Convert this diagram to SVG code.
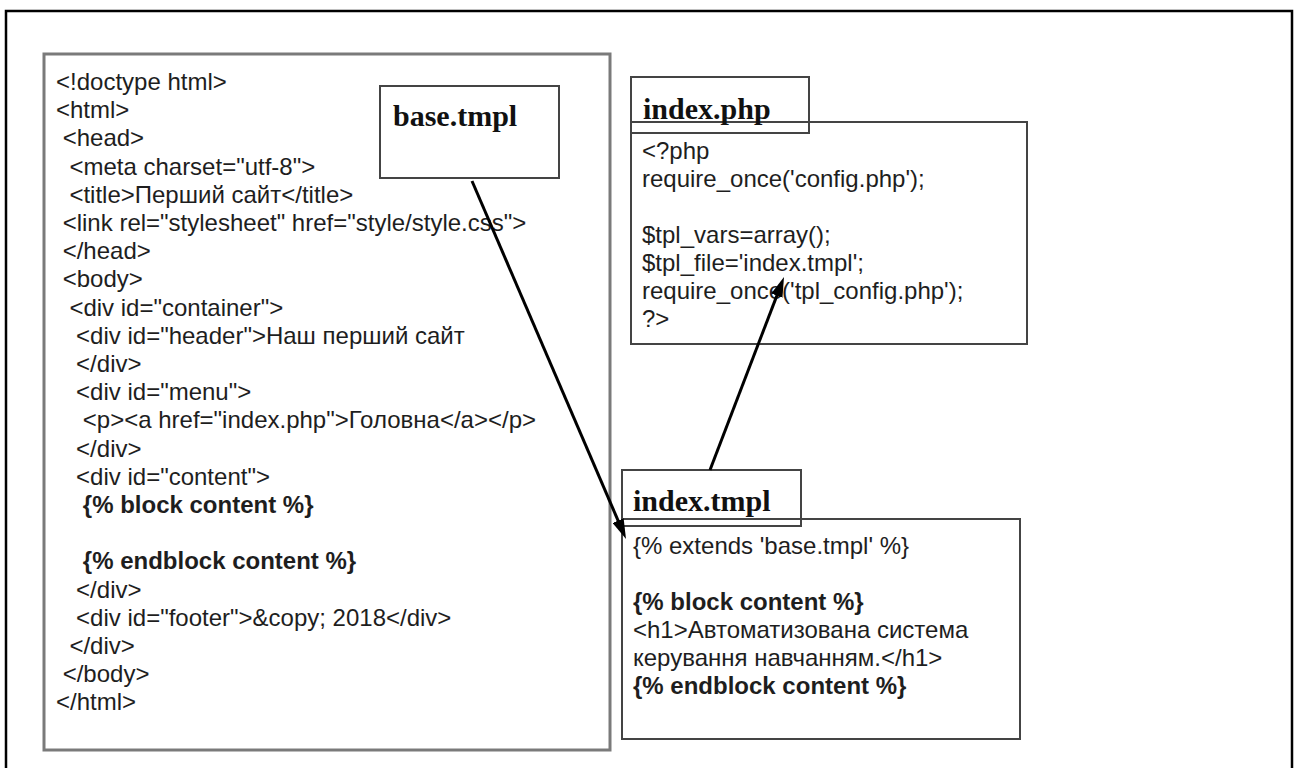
<svg xmlns="http://www.w3.org/2000/svg" width="1297" height="768" viewBox="0 0 1297 768">
<defs>
<style>
.code{font-family:"Liberation Sans",Arial,sans-serif;font-size:24px;fill:#1e1e1e}
.b{font-weight:bold}
.title{font-family:"Liberation Serif","Times New Roman",serif;font-size:30px;font-weight:bold;fill:#111}
.box{fill:#fff;stroke:#444;stroke-width:2}
.outer{fill:#fff;stroke:#7a7a7a;stroke-width:3}
.conn{stroke:#000;stroke-width:3;fill:none;marker-end:url(#ah)}
</style>
<marker id="ah" viewBox="0 0 20 12" refX="10" refY="6" markerWidth="20" markerHeight="12" markerUnits="userSpaceOnUse" orient="auto">
<path d="M0,0 L20,6 L0,12 z" fill="#000"/>
</marker>
</defs>
<rect width="1297" height="768" fill="#fff"/>
<path d="M6,768 V11 H1292 V768" fill="none" stroke="#000" stroke-width="2.5"/>

<g id="base-html">
<rect class="outer" x="44" y="54" width="566" height="696"/>
<text class="code" x="56" y="90">&lt;!doctype html&gt;</text>
<text class="code" x="56" y="118.2">&lt;html&gt;</text>
<text class="code" x="62.7" y="146.4">&lt;head&gt;</text>
<text class="code" x="69.4" y="174.6">&lt;meta charset="utf-8"&gt;</text>
<text class="code" x="69.4" y="202.8">&lt;title&gt;Перший сайт&lt;/title&gt;</text>
<text class="code" x="62.7" y="231">&lt;link rel="stylesheet" href="style/style.css"&gt;</text>
<text class="code" x="62.7" y="259.2">&lt;/head&gt;</text>
<text class="code" x="62.7" y="287.4">&lt;body&gt;</text>
<text class="code" x="69.4" y="315.6">&lt;div id="container"&gt;</text>
<text class="code" x="76.1" y="343.8">&lt;div id="header"&gt;Наш перший сайт</text>
<text class="code" x="76.1" y="372">&lt;/div&gt;</text>
<text class="code" x="76.1" y="400.2">&lt;div id="menu"&gt;</text>
<text class="code" x="82.8" y="428.4">&lt;p&gt;&lt;a href="index.php"&gt;Головна&lt;/a&gt;&lt;/p&gt;</text>
<text class="code" x="76.1" y="456.6">&lt;/div&gt;</text>
<text class="code" x="76.1" y="484.8">&lt;div id="content"&gt;</text>
<text class="code b" x="82.8" y="513">{% block content %}</text>
<text class="code b" x="82.8" y="569.4">{% endblock content %}</text>
<text class="code" x="76.1" y="597.6">&lt;/div&gt;</text>
<text class="code" x="76.1" y="625.8">&lt;div id="footer"&gt;&amp;copy; 2018&lt;/div&gt;</text>
<text class="code" x="69.4" y="654">&lt;/div&gt;</text>
<text class="code" x="62.7" y="682.2">&lt;/body&gt;</text>
<text class="code" x="56" y="710.4">&lt;/html&gt;</text>
</g>

<g id="base-tmpl">
<rect class="box" x="380" y="86" width="179" height="92" stroke="#555"/>
<text class="title" x="393" y="126">base.tmpl</text>
</g>

<g id="index-php">
<rect class="box" x="631" y="122" width="396" height="222"/>
<rect class="box" x="631" y="77" width="178" height="56" fill="none"/>
<line x1="631" y1="122" x2="809" y2="122" stroke="#444" stroke-width="2"/>
<text class="title" x="643" y="119">index.php</text>
<text class="code" x="642" y="159">&lt;?php</text>
<text class="code" x="642" y="187">require_once('config.php');</text>
<text class="code" x="642" y="243">$tpl_vars=array();</text>
<text class="code" x="642" y="271">$tpl_file='index.tmpl';</text>
<text class="code" x="642" y="299">require_once('tpl_config.php');</text>
<text class="code" x="642" y="327">?&gt;</text>
</g>

<g id="index-tmpl">
<rect class="box" x="622" y="519" width="398" height="220"/>
<rect class="box" x="622" y="470" width="179" height="56" style="fill:none"/>
<text class="title" x="633" y="511">index.tmpl</text>
<text class="code" x="633" y="554">{% extends 'base.tmpl' %}</text>
<text class="code b" x="633" y="610">{% block content %}</text>
<text class="code" x="633" y="638">&lt;h1&gt;Автоматизована система</text>
<text class="code" x="633" y="666">керування навчанням.&lt;/h1&gt;</text>
<text class="code b" x="633" y="694">{% endblock content %}</text>
</g>

<g id="connectors">
<path class="conn" d="M472,181 L622.05,529.81"/>
<path class="conn" d="M710,470 L780.42,286.34"/>
</g>
</svg>
